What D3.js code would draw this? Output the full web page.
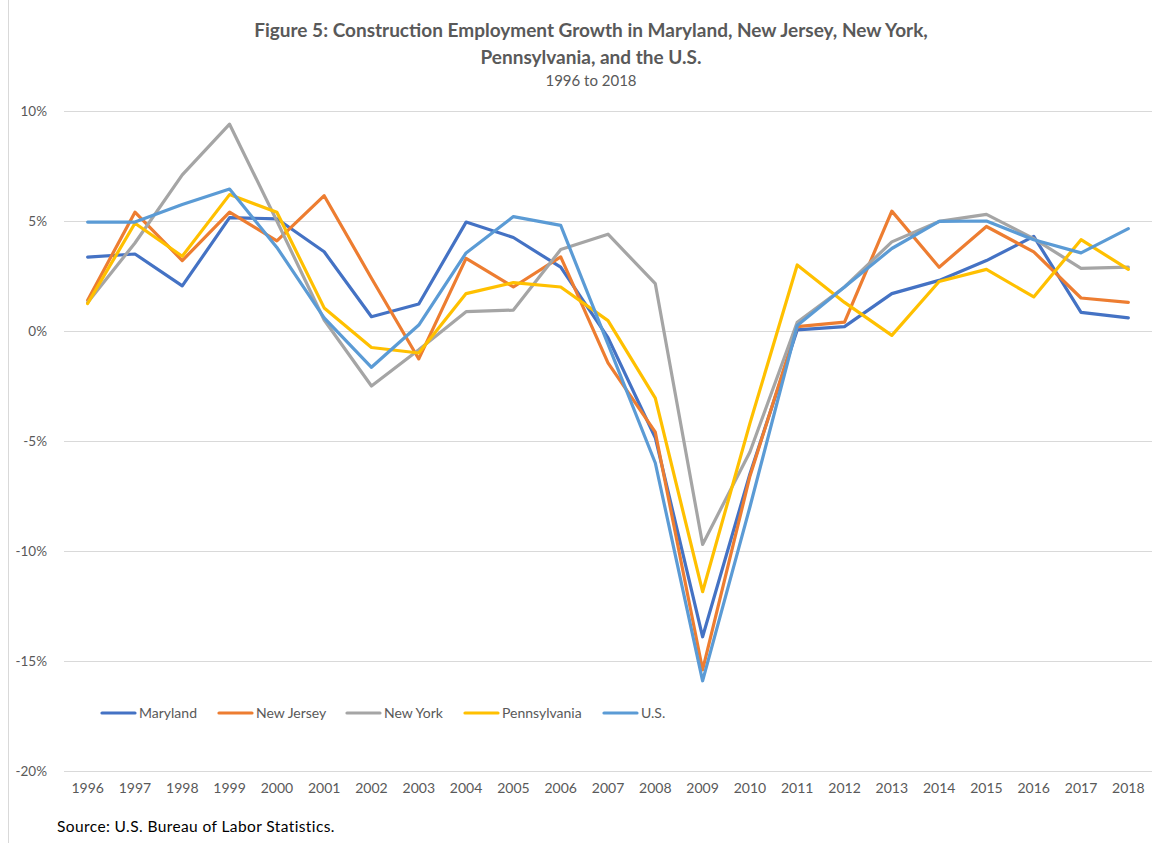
<!DOCTYPE html>
<html>
<head>
<meta charset="utf-8">
<script src="https://cdn.jsdelivr.net/npm/d3@7"></script>
<style>
  body { margin: 0; background: #fff; }
  svg { display: block; font-family: Lato, "Open Sans", sans-serif; }
</style>
</head>
<body>
<svg id="chart" width="1164" height="843"></svg>
<script>
// years on the category axis
const years = ["1996", "1997", "1998", "1999", "2000", "2001", "2002", "2003", "2004", "2005", "2006",
  "2007", "2008", "2009", "2010", "2011", "2012", "2013", "2014", "2015", "2016", "2017", "2018"];

const seriesNames = ["Maryland", "New Jersey", "New York", "Pennsylvania", "U.S."];

// annual growth, percent
const maryland = [3.36, 3.5, 2.05, 5.15, 5.1, 3.6, 0.65, 1.23, 4.95, 4.25, 2.9,
  -0.3, -4.85, -13.9, -6.5, 0.05, 0.2, 1.7, 2.3, 3.2, 4.3, 0.85, 0.6];
const newJersey = [1.4, 5.4, 3.2, 5.4, 4.1, 6.15, 2.4, -1.27, 3.3, 2.0, 3.37,
  -1.45, -4.6, -15.4, -6.6, 0.2, 0.4, 5.45, 2.9, 4.75, 3.6, 1.5, 1.3];
const newYork = [1.3, 4.0, 7.1, 9.4, 5.0, 0.5, -2.5, -0.85, 0.88, 0.95, 3.7,
  4.4, 2.15, -9.7, -5.5, 0.4, 2.0, 4.05, 4.98, 5.3, 4.2, 2.85, 2.9];
const pennsylvania = [1.25, 4.9, 3.4, 6.2, 5.4, 1.05, -0.75, -1.0, 1.7, 2.2, 2.0,
  0.47, -3.05, -11.85, -4.2, 3.0, 1.3, -0.2, 2.25, 2.8, 1.55, 4.15, 2.8];
const us = [4.95, 4.95, 5.75, 6.45, 3.8, 0.6, -1.65, 0.27, 3.55, 5.2, 4.8,
  -0.6, -6.0, -15.9, -8.0, 0.25, 2.0, 3.75, 4.98, 5.0, 4.15, 3.55, 4.65];

const yTicks = [10, 5, 0, -5, -10, -15, -20];
const colors = ["#4472C4", "#ED7D31", "#A5A5A5", "#FFC000", "#5B9BD5"];

const series = [maryland, newJersey, newYork, pennsylvania, us].map((values, i) => ({
  name: seriesNames[i],
  color: colors[i],
  values: values
}));

const svg = d3.select("#chart");
const plot = { left: 64, right: 1152, top: 111, bottom: 771 };

const x = d3.scaleBand().domain(years).range([plot.left, plot.right]);
const y = d3.scaleLinear().domain([-20, 10]).range([plot.bottom, plot.top]);

// chart border on the left
svg.append("line")
  .attr("x1", 8.5).attr("x2", 8.5)
  .attr("y1", 0).attr("y2", 843)
  .attr("stroke", "#d9d9d9");

// title
const title = svg.append("text")
  .attr("text-anchor", "middle")
  .attr("fill", "#595959");
title.append("tspan").attr("x", 591).attr("y", 37)
  .attr("font-size", 19).attr("font-weight", "bold")
  .text("Figure 5: Construction Employment Growth in Maryland, New Jersey, New York,");
title.append("tspan").attr("x", 591).attr("y", 64)
  .attr("font-size", 19).attr("font-weight", "bold")
  .text("Pennsylvania, and the U.S.");
title.append("tspan").attr("x", 591).attr("y", 86)
  .attr("font-size", 15)
  .text("1996 to 2018");

// gridlines
svg.append("g")
  .selectAll("line")
  .data(yTicks)
  .join("line")
  .attr("x1", plot.left).attr("x2", plot.right)
  .attr("y1", (d) => Math.round(y(d)) + 0.5)
  .attr("y2", (d) => Math.round(y(d)) + 0.5)
  .attr("stroke", "#d9d9d9")
  .attr("stroke-width", 1);

// y axis labels
const yAxis = svg.append("g")
  .attr("transform", `translate(${plot.left - 14},0)`)
  .call(d3.axisLeft(y).tickValues(yTicks).tickSize(0).tickFormat((d) => d + "%"));
yAxis.select(".domain").remove();
yAxis.selectAll("text")
  .attr("fill", "#595959")
  .attr("font-size", 13.5)
  .attr("font-family", "Lato, 'Open Sans', sans-serif");

// x axis labels
const xAxis = svg.append("g")
  .attr("transform", `translate(0,${plot.bottom + 9})`)
  .call(d3.axisBottom(x).tickSize(0));
xAxis.select(".domain").remove();
xAxis.selectAll("text")
  .attr("fill", "#595959")
  .attr("font-size", 14)
  .attr("font-family", "Lato, 'Open Sans', sans-serif");

// lines
const line = d3.line()
  .x((d, i) => x(years[i]) + x.bandwidth() / 2)
  .y((d) => y(d));

svg.append("g")
  .selectAll("path")
  .data(series)
  .join("path")
  .attr("d", (d) => line(d.values))
  .attr("fill", "none")
  .attr("stroke", (d) => d.color)
  .attr("stroke-width", 3.2)
  .attr("stroke-linejoin", "round")
  .attr("stroke-linecap", "round");

// legend
const legendX = [102, 219, 347, 465, 604];
const legend = svg.append("g")
  .selectAll("g")
  .data(series)
  .join("g")
  .attr("transform", (d, i) => `translate(${legendX[i]},713)`);
legend.append("line")
  .attr("x1", 0).attr("x2", 33)
  .attr("stroke", (d) => d.color)
  .attr("stroke-width", 3.2)
  .attr("stroke-linecap", "round");
legend.append("text")
  .attr("x", 37)
  .attr("dy", "0.35em")
  .attr("fill", "#595959")
  .attr("font-size", 14)
  .text((d) => d.name);

// source note
svg.append("text")
  .attr("x", 57).attr("y", 832)
  .attr("fill", "#000")
  .attr("font-size", 15.5)
  .attr("letter-spacing", 0.4)
  .text("Source: U.S. Bureau of Labor Statistics.");
</script>
</body>
</html>
